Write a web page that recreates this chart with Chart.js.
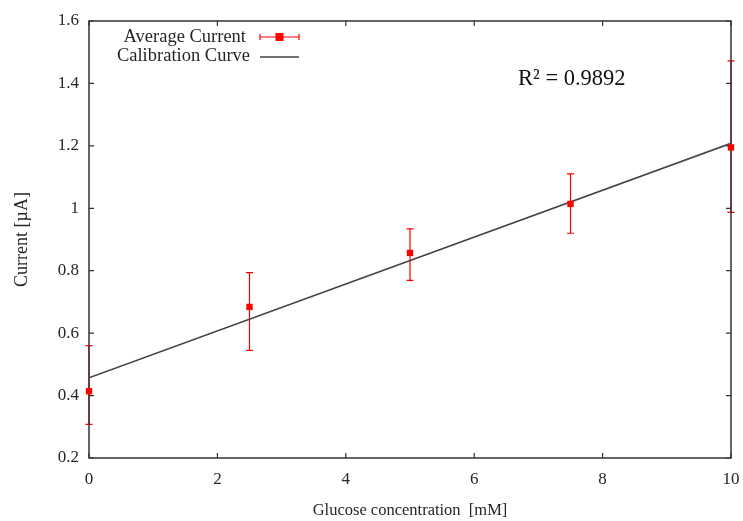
<!DOCTYPE html>
<html>
<head>
<meta charset="utf-8">
<script src="https://cdn.jsdelivr.net/npm/chart.js@4/dist/chart.umd.min.js"></script>
<style>
html,body{margin:0;padding:0;background:#fff;}
#wrap{width:743px;height:521px;position:relative;}
</style>
</head>
<body>
<div id="wrap"><canvas id="c" width="743" height="521"></canvas></div>
<script>
const concentrations = [0, 2.5, 5, 7.5, 10];
const avgCurrent = [0.414, 0.684, 0.857, 1.014, 1.195];
const errLow = [0.308, 0.545, 0.769, 0.920, 0.987];
const errHigh = [0.560, 0.794, 0.934, 1.110, 1.472];
const calX = [0, 10];
const calY = [0.457, 1.208];
const xTicks = [0, 2, 4, 6, 8, 10];
const yTicks = [0.2, 0.4, 0.6, 0.8, 1.0, 1.2, 1.4, 1.6];
const annotationText = 'R\u00B2 = 0.9892';
const FONT = '"Liberation Serif", "Times New Roman", serif';
const TXT = '#262626';

const frame = {
  id: 'frame',
  beforeDatasetsDraw(chart) {
    const {ctx, chartArea: a, scales} = chart;
    ctx.save();
    // error bars (drawn under the frame)
    ctx.strokeStyle = '#ff0000';
    ctx.lineWidth = 1.2;
    concentrations.forEach((c, i) => {
      const x = scales.x.getPixelForValue(c);
      const y1 = scales.y.getPixelForValue(errLow[i]);
      const y2 = scales.y.getPixelForValue(errHigh[i]);
      ctx.beginPath();
      ctx.moveTo(x, y1); ctx.lineTo(x, y2);
      ctx.moveTo(x - 3.5, y1); ctx.lineTo(x + 3.5, y1);
      ctx.moveTo(x - 3.5, y2); ctx.lineTo(x + 3.5, y2);
      ctx.stroke();
    });
    // border
    ctx.strokeStyle = '#333';
    ctx.lineWidth = 1.5;
    ctx.strokeRect(a.left, a.top, a.right - a.left, a.bottom - a.top);
    // inward ticks (mirrored)
    ctx.lineWidth = 1.2;
    const L = 5;
    xTicks.forEach(v => {
      const x = scales.x.getPixelForValue(v);
      ctx.beginPath();
      ctx.moveTo(x, a.bottom); ctx.lineTo(x, a.bottom - L);
      ctx.moveTo(x, a.top); ctx.lineTo(x, a.top + L);
      ctx.stroke();
    });
    yTicks.forEach(v => {
      const y = scales.y.getPixelForValue(v);
      ctx.beginPath();
      ctx.moveTo(a.left, y); ctx.lineTo(a.left + L, y);
      ctx.moveTo(a.right, y); ctx.lineTo(a.right - L, y);
      ctx.stroke();
    });
    ctx.restore();
  },
  afterDraw(chart) {
    const {ctx} = chart;
    ctx.save();
    ctx.fillStyle = TXT;
    ctx.font = '18.5px ' + FONT;
    ctx.textAlign = 'right';
    ctx.textBaseline = 'middle';
    const ds = chart.data.datasets;
    const rx = 246, sx1 = 260, sx2 = 299;
    // legend entry 1: Average Current
    ctx.fillText(ds[0].label, rx, 37);
    ctx.strokeStyle = '#ff0000';
    ctx.lineWidth = 1.2;
    ctx.beginPath();
    ctx.moveTo(sx1, 37); ctx.lineTo(sx2, 37);
    ctx.moveTo(sx1, 34); ctx.lineTo(sx1, 40);
    ctx.moveTo(sx2, 34); ctx.lineTo(sx2, 40);
    ctx.stroke();
    ctx.fillStyle = '#ff0000';
    ctx.fillRect(279.5 - 4, 37 - 4, 8, 8);
    // legend entry 2: Calibration Curve
    ctx.fillStyle = TXT;
    ctx.fillText(ds[1].label, rx + 4, 56);
    ctx.strokeStyle = '#444';
    ctx.lineWidth = 1.5;
    ctx.beginPath();
    ctx.moveTo(sx1, 57); ctx.lineTo(sx2, 57);
    ctx.stroke();
    // R^2 annotation
    ctx.fillStyle = '#111';
    ctx.font = '22.5px ' + FONT;
    ctx.textAlign = 'left';
    ctx.fillText(annotationText, 518, 79);
    ctx.restore();
  }
};

new Chart(document.getElementById('c'), {
  type: 'scatter',
  data: {
    datasets: [
      {
        label: 'Average Current',
        data: concentrations.map((c, i) => ({x: c, y: avgCurrent[i]})),
        pointStyle: 'rect',
        pointRadius: 4.5,
        backgroundColor: '#ff0000',
        borderColor: '#ff0000',
        borderWidth: 0,
        clip: false,
        order: 0
      },
      {
        label: 'Calibration Curve',
        type: 'line',
        data: calX.map((c, i) => ({x: c, y: calY[i]})),
        borderColor: '#444',
        borderWidth: 1.6,
        pointRadius: 0,
        fill: false,
        order: 1
      }
    ]
  },
  options: {
    responsive: false,
    animation: false,
    devicePixelRatio: 1,
    layout: {padding: {top: 21, right: 12, left: 0, bottom: 0}},
    plugins: {legend: {display: false}, tooltip: {enabled: false}},
    scales: {
      x: {
        type: 'linear', min: 0, max: 10,
        afterBuildTicks(s) { s.ticks = xTicks.map(v => ({value: v})); },
        afterFit(s) { s.height = 63; s.paddingLeft = 0; s.paddingRight = 0; },
        grid: {display: false, drawTicks: false},
        border: {display: false},
        ticks: {color: TXT, font: {family: FONT, size: 17}, padding: 11, maxRotation: 0,
                callback: v => String(v)},
        title: {display: true, text: 'Glucose concentration  [mM]', color: TXT,
                font: {family: FONT, size: 16.5}, padding: {top: 7, bottom: 0}}
      },
      y: {
        type: 'linear', min: 0.2, max: 1.6,
        afterBuildTicks(s) { s.ticks = yTicks.map(v => ({value: v})); },
        afterFit(s) { s.width = 89; s.paddingTop = 0; s.paddingBottom = 0; },
        grid: {display: false, drawTicks: false},
        border: {display: false},
        ticks: {color: TXT, font: {family: FONT, size: 17}, padding: 10,
                callback: v => String(Number(v.toFixed(1)))},
        title: {display: true, text: 'Current [\u00B5A]', color: TXT,
                font: {family: FONT, size: 18}, padding: {top: 11, bottom: 0}}
      }
    }
  },
  plugins: [frame]
});
</script>
</body>
</html>
